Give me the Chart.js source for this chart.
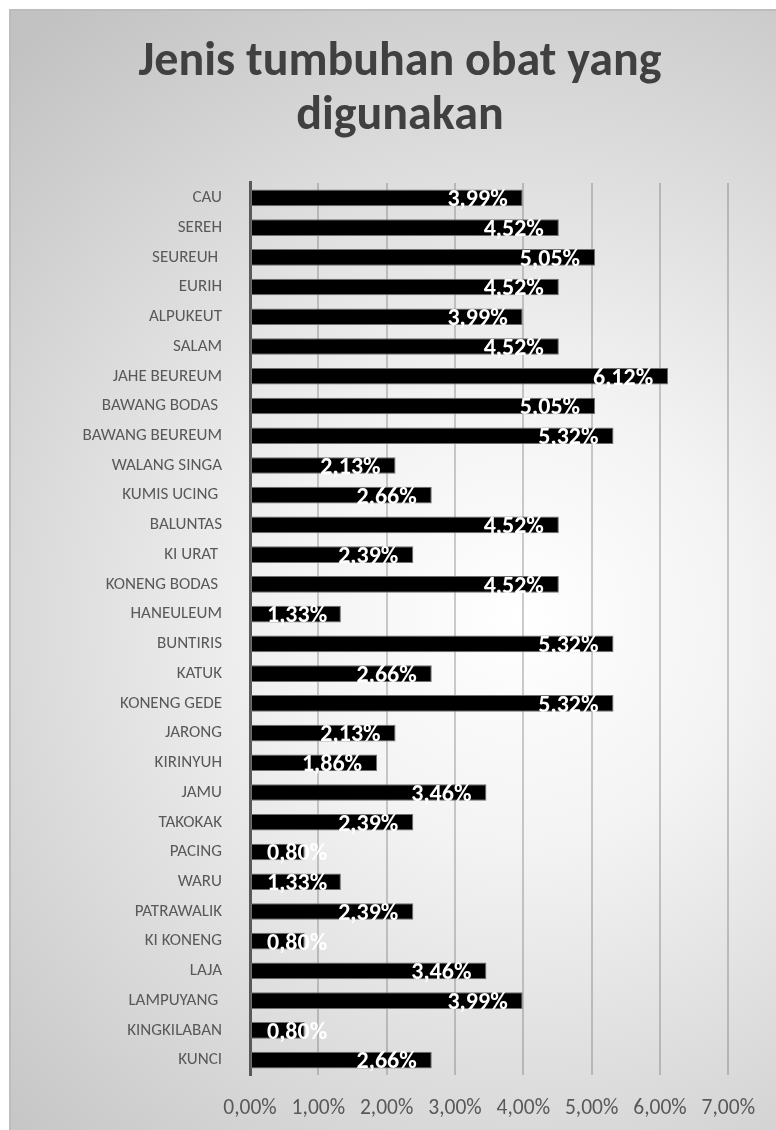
<!DOCTYPE html>
<html>
<head>
<meta charset="utf-8">
<script src="https://cdn.jsdelivr.net/npm/chart.js@4.4.1/dist/chart.umd.min.js"></script>
<style>
    html, body { margin: 0; padding: 0; background: #fff; }
    #wrap { width: 776px; height: 1130px; }
</style>
</head>
<body>
<div id="wrap"><canvas id="chart" width="776" height="1130"></canvas></div>
<script>
// Data
const categories = [
    'CAU', 'SEREH', 'SEUREUH ', 'EURIH', 'ALPUKEUT', 'SALAM', 'JAHE BEUREUM',
    'BAWANG BODAS ', 'BAWANG BEUREUM', 'WALANG SINGA', 'KUMIS UCING ', 'BALUNTAS',
    'KI URAT ', 'KONENG BODAS ', 'HANEULEUM', 'BUNTIRIS', 'KATUK', 'KONENG GEDE',
    'JARONG', 'KIRINYUH', 'JAMU', 'TAKOKAK', 'PACING', 'WARU', 'PATRAWALIK',
    'KI KONENG', 'LAJA', 'LAMPUYANG ', 'KINGKILABAN', 'KUNCI'
];
const shares = [
    3.99, 4.52, 5.05, 4.52, 3.99, 4.52, 6.12,
    5.05, 5.32, 2.13, 2.66, 4.52,
    2.39, 4.52, 1.33, 5.32, 2.66, 5.32,
    2.13, 1.86, 3.46, 2.39, 0.80, 1.33, 2.39,
    0.80, 3.46, 3.99, 0.80, 2.66
];
const tickValues = [0, 1, 2, 3, 4, 5, 6, 7];
const titleLines = ['Jenis tumbuhan obat yang', 'digunakan'];

const FONT = "Carlito, Lato, 'Open Sans', sans-serif";
const fmtPct = v => v.toFixed(2).replace('.', ',') + '%';

// Radial grey/white fill of the chart box, like the Office style
const backgroundPlugin = {
    id: 'boxBackground',
    beforeDraw(chart) {
        const { ctx, width, height } = chart;
        ctx.save();
        ctx.fillStyle = '#fff';
        ctx.fillRect(0, 0, width, height);
        const g = ctx.createRadialGradient(520, 620, 0, 520, 620, 760);
        g.addColorStop(0, '#ffffff');
        g.addColorStop(0.3, '#f3f3f3');
        g.addColorStop(1, '#c2c2c2');
        ctx.fillStyle = g;
        ctx.fillRect(10, 10, width, height);
        ctx.strokeStyle = '#bdbdbd';
        ctx.lineWidth = 2;
        ctx.strokeRect(10, 10, width + 10, height + 10);
        ctx.restore();
    }
};

// White value labels at the inside end of each bar
const valueLabelPlugin = {
    id: 'valueLabels',
    afterDatasetsDraw(chart) {
        const { ctx } = chart;
        const meta = chart.getDatasetMeta(0);
        ctx.save();
        ctx.font = "bold 24px " + FONT;
        ctx.fillStyle = '#fff';
        ctx.textAlign = 'right';
        ctx.textBaseline = 'alphabetic';
        meta.data.forEach((bar, i) => {
            const text = fmtPct(shares[i]);
            const w = ctx.measureText(text).width;
            const x = Math.max(bar.x - 15, bar.base + 16 + w);
            ctx.fillText(text, x, bar.y + bar.height / 2);
        });
        ctx.restore();
    }
};

const ctx = document.getElementById('chart').getContext('2d');
new Chart(ctx, {
    type: 'bar',
    data: {
        labels: categories,
        datasets: [{
            data: shares,
            backgroundColor: '#000000',
            borderColor: '#6f6f6f',
            borderWidth: 1,
            borderSkipped: false,
            barPercentage: 0.56,
            categoryPercentage: 1.0,
        }]
    },
    options: {
        indexAxis: 'y',
        responsive: false,
        animation: false,
        devicePixelRatio: 1,
        // left padding shifts the title centre to match the box centre
        layout: { padding: { top: 10, left: 68, right: 44, bottom: 10 } },
        plugins: {
            legend: { display: false },
            tooltip: { enabled: false },
            title: {
                display: true,
                text: titleLines,
                color: '#404040',
                font: { family: FONT, size: 48, weight: 'bold', lineHeight: 1.13 },
                padding: { top: 26, bottom: 38.5 },
            }
        },
        scales: {
            x: {
                min: 0,
                max: 7,
                afterBuildTicks(scale) {
                    scale.ticks = tickValues.map(v => ({ value: v }));
                },
                afterFit(scale) { scale.height = 45; },
                grid: {
                    color: 'rgba(110,110,110,0.35)',
                    lineWidth: 2,
                    drawTicks: false,
                },
                border: { display: false },
                ticks: {
                    padding: 21,
                    color: '#595959',
                    font: { family: FONT, size: 21.5 },
                    callback: v => fmtPct(v),
                }
            },
            y: {
                afterFit(scale) { scale.width = 182; },
                grid: { display: false, drawTicks: false },
                border: { display: true, color: '#595959', width: 3 },
                ticks: {
                    padding: 28,
                    color: '#595959',
                    font: { family: FONT, size: 17 },
                    autoSkip: false,
                }
            }
        }
    },
    plugins: [backgroundPlugin, valueLabelPlugin]
});
</script>
</body>
</html>
